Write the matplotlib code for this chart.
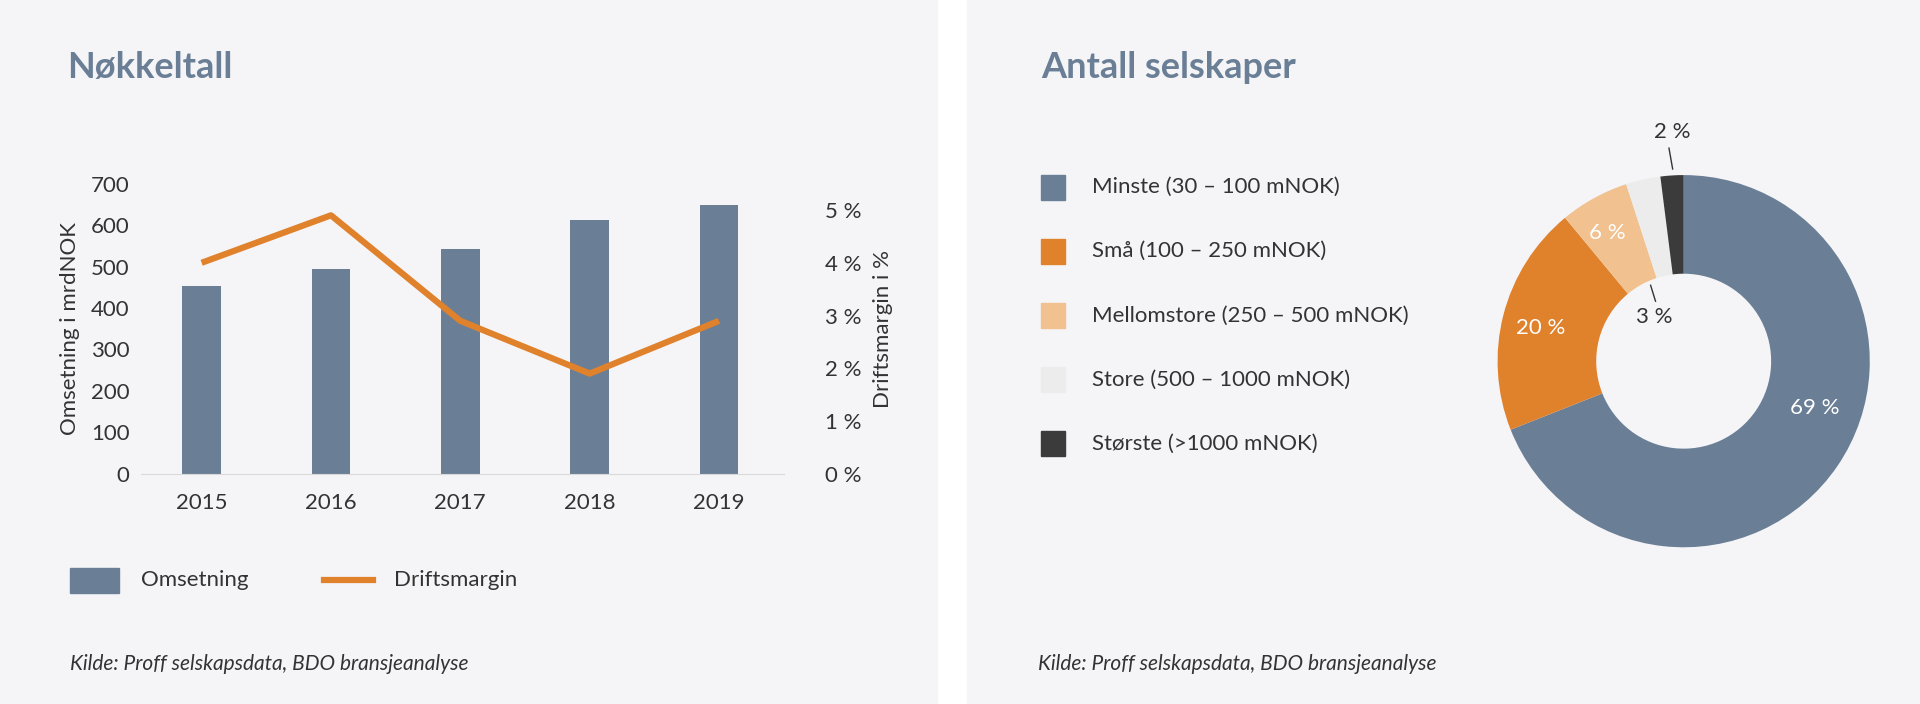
import matplotlib
matplotlib.use("Agg")
import matplotlib.pyplot as plt
from matplotlib.patches import Rectangle
from matplotlib.lines import Line2D

years = ["2015", "2016", "2017", "2018", "2019"]
omsetning = [453, 495, 542, 612, 648]
driftsmargin = [4.0, 4.9, 2.9, 1.9, 2.9]
y_ticks_left = [0, 100, 200, 300, 400, 500, 600, 700]
y_ticks_right = [0, 1, 2, 3, 4, 5]

segments = ["Minste (30 – 100 mNOK)", "Små (100 – 250 mNOK)",
            "Mellomstore (250 – 500 mNOK)", "Store (500 – 1000 mNOK)",
            "Største (>1000 mNOK)"]
shares = [69, 20, 6, 3, 2]

BLUE = "#6a7f96"
ORANGE = "#e0812c"
seg_colors = [BLUE, ORANGE, "#f1c190", "#ececec", "#3b3b3b"]
BG = "#f5f5f8"
TXT = "#333333"
plt.rcParams["font.family"] = "Lato"
FS = 16

W, H = 1568, 575
fig = plt.figure(figsize=(19.2, 7.04), dpi=100)


def fx(x):
    return x / W


def fy(y):
    return 1 - y / H


fig.patches.append(Rectangle((0, 0), fx(765), 1, transform=fig.transFigure, color=BG, zorder=-5))
fig.patches.append(Rectangle((fx(790), 0), 1 - fx(790), 1, transform=fig.transFigure, color=BG, zorder=-5))

fig.text(fx(55), fy(55), "Nøkkeltall", fontsize=26, fontweight="bold", color=BLUE, va="center")
fig.text(fx(850), fy(55), "Antall selskaper", fontsize=26, fontweight="bold", color=BLUE, va="center")

# bar + line chart
ax = fig.add_axes([fx(115), fy(387), fx(640) - fx(115), fy(150) - fy(387)])
ax.set_facecolor("none")
x = range(len(years))
ax.bar(x, omsetning, width=0.3, color=BLUE)
ax.set_ylim(0, 700)
ax.set_xlim(-0.47, 4.5)
ax.set_yticks(y_ticks_left)
ax.set_xticks(list(x), years)
ax.tick_params(length=0, labelsize=FS, colors=TXT, pad=8)
ax.tick_params(axis="x", pad=14)
for s in ["top", "right", "left"]:
    ax.spines[s].set_visible(False)
ax.spines["bottom"].set_color("#d9d9d9")
ax.set_ylabel("Omsetning i mrdNOK", fontsize=FS, color=TXT, labelpad=8)

ax2 = ax.twinx()
ax2.plot(list(x), driftsmargin, color=ORANGE, lw=4.5, solid_capstyle="butt")
ax2.set_ylim(0, 5.5)
ax2.set_yticks(y_ticks_right, [f"{v} %" for v in y_ticks_right])
ax2.tick_params(length=0, labelsize=FS, colors=TXT, pad=30)
for s in ax2.spines.values():
    s.set_visible(False)
ax2.set_ylabel("Driftsmargin i %", fontsize=FS, color=TXT, labelpad=8)

fig.patches.append(Rectangle((fx(57), fy(484)), fx(40), fy(464) - fy(484), transform=fig.transFigure, color=BLUE))
fig.lines.append(Line2D([fx(265), fx(305)], [fy(474)] * 2, transform=fig.transFigure, color=ORANGE, lw=4.5))
fig.text(fx(115), fy(474), "Omsetning", fontsize=FS, color=TXT, va="center")
fig.text(fx(322), fy(474), "Driftsmargin", fontsize=FS, color=TXT, va="center")

fig.text(fx(57), fy(542), "Kilde: Proff selskapsdata, BDO bransjeanalyse", fontsize=15, style="italic", color=TXT, va="center")
fig.text(fx(848), fy(542), "Kilde: Proff selskapsdata, BDO bransjeanalyse", fontsize=15, style="italic", color=TXT, va="center")

# donut
r = 152
axp = fig.add_axes([fx(1375 - r), fy(295 + r), fx(2 * r), fy(295 - r) - fy(295 + r)])
axp.pie(shares, colors=seg_colors, startangle=90, counterclock=False,
        wedgeprops=dict(width=0.53, edgecolor="none"))
axp.set_xlim(-1, 1)
axp.set_ylim(-1, 1)
axp.set_aspect("equal")
label_pos = [(1482, 333, "white"), (1258, 268, "white"), (1313, 190, "white"),
             (1351, 259, TXT), (1366, 108, TXT)]
for (px, py, c), v in zip(label_pos, shares):
    fig.text(fx(px), fy(py), f"{v} %", fontsize=FS, color=c, ha="center", va="center")
fig.lines.append(Line2D([fx(1363), fx(1366)], [fy(121), fy(138)], transform=fig.transFigure, color=TXT, lw=1))
fig.lines.append(Line2D([fx(1352), fx(1348)], [fy(246), fy(233)], transform=fig.transFigure, color=TXT, lw=1))

for i, (name, c) in enumerate(zip(segments, seg_colors)):
    yc = 153 + i * 52.3
    fig.patches.append(Rectangle((fx(850), fy(yc + 10)), fx(20), fy(yc - 10) - fy(yc + 10),
                                 transform=fig.transFigure, color=c))
    fig.text(fx(892), fy(yc), name, fontsize=FS, color=TXT, va="center")

fig.savefig("out.png", facecolor="white")
